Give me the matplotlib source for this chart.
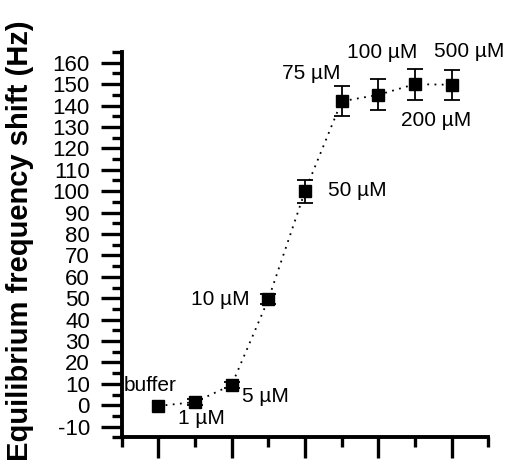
import matplotlib
matplotlib.use("Agg")
import matplotlib.pyplot as plt
from matplotlib.ticker import MultipleLocator

plt.rcParams['font.family'] = ['Liberation Sans', 'DejaVu Sans']
plt.rcParams['axes.unicode_minus'] = False

labels = ["buffer", "1 µM", "5 µM", "10 µM", "50 µM", "75 µM", "100 µM", "200 µM", "500 µM"]
xpos = [1, 2, 3, 4, 5, 6, 7, 8, 9]
shift = [-0.3, 1.5, 9.5, 49.5, 100.0, 142.0, 145.0, 150.0, 149.7]
err = [0.0, 1.5, 1.5, 2.3, 5.4, 7.1, 7.2, 7.2, 7.0]

# label offsets (pixels)
lab_off = [(-8, 20), (6, -16), (34, -12), (-48, 0), (52, 1), (-30, 28), (4, 42), (21, -36), (18, 33)]

fig = plt.figure(figsize=(5.11, 4.73), dpi=100)
ax = fig.add_axes([0.2382, 0.0753, 0.7174, 0.8147])

ax.plot(xpos, shift, color='black', linestyle=(0, (1, 3)), linewidth=1.3, zorder=1)
ax.errorbar(xpos[1:], shift[1:], yerr=err[1:], fmt='none', ecolor='black', elinewidth=1.3,
            capsize=6, capthick=1.3, zorder=2)
ax.plot(xpos, shift, linestyle='none', marker='s', markersize=9, color='black', zorder=3)

for x, y, t, (dx, dy) in zip(xpos, shift, labels, lab_off):
    ax.annotate(t, (x, y), xytext=(dx, dy), textcoords='offset pixels',
                ha='center', va='center', fontsize=15)

ax.set_xlim(0, 10)
ax.set_ylim(-15, 165)
ax.yaxis.set_major_locator(MultipleLocator(10))
ax.yaxis.set_minor_locator(MultipleLocator(5))
ax.set_xticks([1, 3, 5, 7, 9])
ax.set_xticks([0, 2, 4, 6, 8, 10], minor=True)
ax.set_xticklabels([])

for s in ['top', 'right']:
    ax.spines[s].set_visible(False)
for s in ['left', 'bottom']:
    ax.spines[s].set_linewidth(2.8)

ax.tick_params(axis='both', which='major', direction='out', length=15, width=2.4, labelsize=16, pad=8)
ax.tick_params(axis='both', which='minor', direction='out', length=7.5, width=2.4)

ax.set_ylabel("Equilibrium frequency shift (Hz)", fontsize=21, fontweight='bold')
ax.yaxis.set_label_coords(-0.24, 0.51)

fig.savefig("out.png", dpi=100)
